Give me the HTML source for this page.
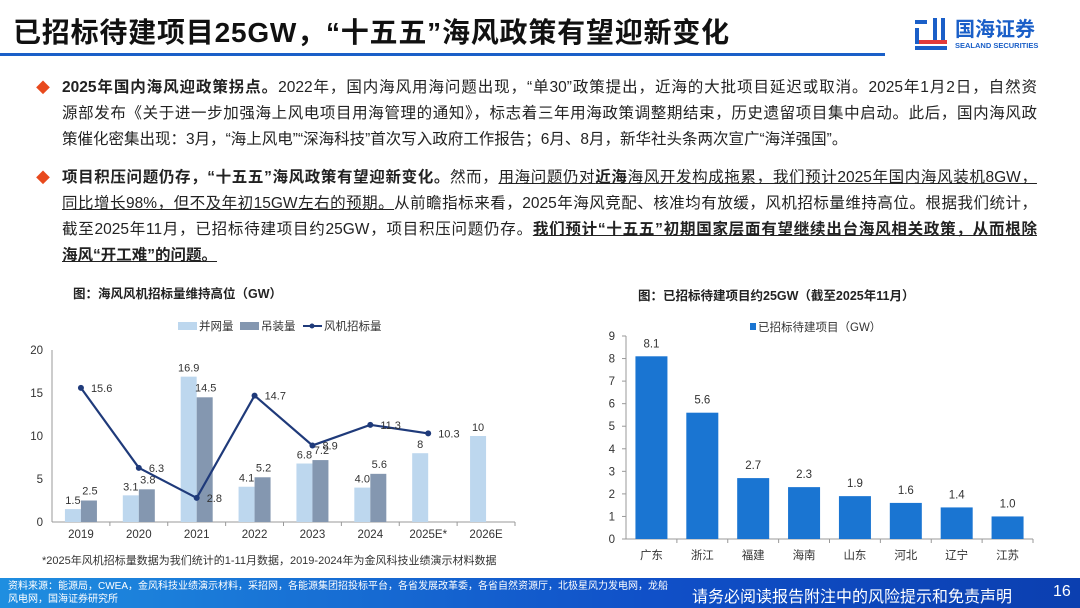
<!DOCTYPE html>
<html><head><meta charset="utf-8">
<style>
*{margin:0;padding:0;box-sizing:border-box}
body{width:1080px;height:608px;overflow:hidden;background:#fff;font-family:"Liberation Sans","Noto Sans CJK SC",sans-serif;position:relative;color:#222}
.abs{position:absolute}
.title{left:13px;top:11px;font-size:28px;font-weight:bold;color:#111;letter-spacing:0.8px;white-space:nowrap}
.rule{left:0;top:53px;width:885px;height:3px;background:#1a5fc8}
.body{left:62px;top:75px;width:975px;font-size:15.5px;line-height:26px;color:#222}
.p{position:relative;margin-bottom:12px}
.p .b{position:absolute;left:-26px;top:0;color:#e8491d;font-size:14px}
.l{white-space:nowrap;text-align:justify;text-align-last:justify;height:26px}
.l.last{text-align-last:left}
.u{text-decoration:underline}
.footer{left:0;top:578px;width:1080px;height:30px;background:linear-gradient(90deg,#1f8ee0,#1050c8 60%,#0b3fb0)}
</style></head><body>
<div class="abs title">已招标待建项目25GW，“十五五”海风政策有望迎新变化</div>
<div class="abs rule"></div>
<div class="abs" style="left:913px;top:16px;width:160px;height:40px">
<svg width="36" height="36" viewBox="0 0 36 36" style="position:absolute;left:0;top:0">
<rect x="2" y="4" width="12" height="4" fill="#1a5fc8"/><rect x="2" y="12" width="4" height="16" fill="#1a5fc8"/><rect x="20" y="2" width="4" height="22" fill="#1a5fc8"/><rect x="28" y="2" width="4" height="22" fill="#1a5fc8"/><rect x="6" y="24" width="28" height="4" fill="#e23a3a"/><rect x="2" y="30" width="32" height="4" fill="#1a5fc8"/></svg>
<div style="position:absolute;left:42px;top:0;font-size:20px;font-weight:bold;color:#1a5fc8;font-family:'Noto Sans CJK SC',sans-serif;line-height:24px">国海证券</div>
<div style="position:absolute;left:42px;top:25px;font-size:7.5px;font-weight:bold;color:#1a5fc8">SEALAND SECURITIES</div>
</div>
<div class="abs body">
<div class="p"><span class="b">◆</span>
<div class="l"><b>2025年国内海风迎政策拐点。</b>2022年，国内海风用海问题出现，“单30”政策提出，近海的大批项目延迟或取消。2025年1月2日，自然资</div>
<div class="l">源部发布《关于进一步加强海上风电项目用海管理的通知》，标志着三年用海政策调整期结束，历史遗留项目集中启动。此后，国内海风政</div>
<div class="l last">策催化密集出现：3月，“海上风电”“深海科技”首次写入政府工作报告；6月、8月，新华社头条两次宣广“海洋强国”。</div>
</div>
<div class="p"><span class="b">◆</span>
<div class="l"><b>项目积压问题仍存，“十五五”海风政策有望迎新变化。</b>然而，<span class="u">用海问题仍对<b>近海</b>海风开发构成拖累，我们预计2025年国内海风装机8GW，</span></div>
<div class="l"><span class="u">同比增长98%，但不及年初15GW左右的预期。</span>从前瞻指标来看，2025年海风竞配、核准均有放缓，风机招标量维持高位。根据我们统计，</div>
<div class="l">截至2025年11月，已招标待建项目约25GW，项目积压问题仍存。<b class="u">我们预计“十五五”初期国家层面有望继续出台海风相关政策，从而根除</b></div>
<div class="l last"><b class="u">海风“开工难”的问题。</b></div>
</div>
</div>

<svg id="c1" class="abs" style="left:0;top:280px" width="590" height="298"></svg>
<svg id="c2" class="abs" style="left:590px;top:280px" width="490" height="298"></svg>

<div class="abs footer">
<div class="abs" style="left:8px;top:2px;font-size:10px;line-height:13px;color:#fff;width:662px">资料来源：能源局，CWEA，金风科技业绩演示材料，采招网，各能源集团招投标平台，各省发展改革委，各省自然资源厅，北极星风力发电网，龙船风电网，国海证券研究所</div>
<div class="abs" style="left:692px;top:5px;font-size:16px;color:#fff">请务必阅读报告附注中的风险提示和免责声明</div>
<div class="abs" style="left:1053px;top:5px;font-size:16px;color:#fff">16</div>
</div>

<script>
const years=["2019","2020","2021","2022","2023","2024","2025E*","2026E"];
const gridConn=[1.5,3.1,16.9,4.1,6.8,4.0,8,10];
const installed=[2.5,3.8,14.5,5.2,7.2,5.6,null,null];
const tender=[15.6,6.3,2.8,14.7,8.9,11.3,10.3,null];
const yTicks1=[0,5,10,15,20];
const provinces=["广东","浙江","福建","海南","山东","河北","辽宁","江苏"];
const pending=[8.1,5.6,2.7,2.3,1.9,1.6,1.4,1.0];
const yTicks2=[0,1,2,3,4,5,6,7,8,9];
const NS="http://www.w3.org/2000/svg";
function mk(svg,tag,attrs,txt){const e=document.createElementNS(NS,tag);for(const k in attrs)e.setAttribute(k,attrs[k]);if(txt!==undefined)e.textContent=txt;svg.appendChild(e);return e;}
const FF='"Liberation Sans","Noto Sans CJK SC",sans-serif';
(function(){
const s=document.getElementById('c1');
const x0=52,x1=515,y0=242,yTop=70,max=20;
const y=v=>y0-(v/max)*(y0-yTop);
const cw=(x1-x0)/years.length;
const cx=i=>x0+cw*(i+0.5);
let t=mk(s,'text',{x:73,y:18,'font-size':12.5,'font-weight':'bold','font-family':FF,fill:'#222'},'图：海风风机招标量维持高位（GW）');

let g=mk(s,'g',{});
mk(g,'rect',{x:178,y:42,width:19,height:8,fill:'#bdd7ee'});mk(g,'text',{x:199,y:50,'font-size':11.5,'font-family':FF,fill:'#333'},'并网量');
mk(g,'rect',{x:240,y:42,width:19,height:8,fill:'#8497b0'});mk(g,'text',{x:261,y:50,'font-size':11.5,'font-family':FF,fill:'#333'},'吊装量');
mk(g,'line',{x1:303,y1:46,x2:322,y2:46,stroke:'#1f3a7a','stroke-width':2});mk(g,'circle',{cx:312,cy:46,r:2.5,fill:'#1f3a7a'});mk(g,'text',{x:324,y:50,'font-size':11.5,'font-family':FF,fill:'#333'},'风机招标量');
mk(s,'line',{x1:x0,y1:yTop,x2:x0,y2:y0,stroke:'#999'});
mk(s,'line',{x1:x0,y1:y0,x2:x1,y2:y0,stroke:'#999'});
yTicks1.forEach(v=>{const e=mk(s,'text',{x:43,y:y(v)+4,'font-size':11.5,'text-anchor':'end','font-family':FF,fill:'#333'},v);});
years.forEach((c,i)=>{
 mk(s,'line',{x1:x0+cw*(i+1),y1:y0,x2:x0+cw*(i+1),y2:y0+4,stroke:'#999'});
 const e=mk(s,'text',{x:cx(i),y:y0+16,'font-size':11.5,'text-anchor':'middle','font-family':FF,fill:'#333'},c);
 
 if(gridConn[i]!=null){const r=mk(s,'rect',{x:cx(i)-16,y:y(gridConn[i]),width:16,height:y0-y(gridConn[i]),fill:'#bdd7ee'});
  
  const lbl=(i>=6)?String(gridConn[i]):gridConn[i].toFixed(1);
  mk(s,'text',{x:cx(i)-8,y:y(gridConn[i])-5,'font-size':11,'text-anchor':'middle','font-family':FF,fill:'#333'},lbl);}
 if(installed[i]!=null){const r=mk(s,'rect',{x:cx(i),y:y(installed[i]),width:16,height:y0-y(installed[i]),fill:'#8497b0'});
  
  mk(s,'text',{x:cx(i)+9,y:y(installed[i])-6,'font-size':11,'text-anchor':'middle','font-family':FF,fill:'#333'},installed[i].toFixed(1));}
});
const pts=tender.map((v,i)=>v==null?null:[cx(i),y(v)]).filter(p=>p);
const pl=mk(s,'polyline',{points:pts.map(p=>p.join(',')).join(' '),fill:'none',stroke:'#1f3a7a','stroke-width':2.2});

tender.forEach((v,i)=>{if(v==null)return;const c=mk(s,'circle',{cx:cx(i),cy:y(v),r:3,fill:'#1f3a7a'});
 mk(s,'text',{x:cx(i)+10,y:y(v)+4,'font-size':11,'font-family':FF,fill:'#333'},v.toFixed(1));});
const n=mk(s,'text',{x:42,y:284,'font-size':11,'font-family':FF,fill:'#333'},'*2025年风机招标量数据为我们统计的1-11月数据，2019-2024年为金风科技业绩演示材料数据');

})();
(function(){
const s=document.getElementById('c2');
const x0=36,x1=443,y0=259,yTop=56,max=9;
const y=v=>y0-(v/max)*(y0-yTop);
const cw=(x1-x0)/provinces.length;
const cx=i=>x0+cw*(i+0.5);
let t=mk(s,'text',{x:48,y:20,'font-size':12.5,'font-weight':'bold','font-family':FF,fill:'#222'},'图：已招标待建项目约25GW（截至2025年11月）');

let g=mk(s,'g',{});
mk(g,'rect',{x:160,y:43,width:6,height:7,fill:'#1a75d2'});mk(g,'text',{x:168,y:51,'font-size':11.5,'font-family':FF,fill:'#333'},'已招标待建项目（GW）');
mk(s,'line',{x1:x0,y1:yTop,x2:x0,y2:y0,stroke:'#999'});
mk(s,'line',{x1:x0,y1:y0,x2:x1,y2:y0,stroke:'#999'});
yTicks2.forEach(v=>{mk(s,'line',{x1:x0-4,y1:y(v),x2:x0,y2:y(v),stroke:'#999'});const e=mk(s,'text',{x:25,y:y(v)+4,'font-size':11.5,'text-anchor':'end','font-family':FF,fill:'#333'},v);});
provinces.forEach((c,i)=>{
 mk(s,'line',{x1:x0+cw*(i+1),y1:y0,x2:x0+cw*(i+1),y2:y0+4,stroke:'#999'});
 const e=mk(s,'text',{x:cx(i),y:y0+20,'font-size':11.5,'text-anchor':'middle','font-family':FF,fill:'#333'},c);
 
 const r=mk(s,'rect',{x:cx(i)-16,y:y(pending[i]),width:32,height:y0-y(pending[i]),fill:'#1a75d2'});
 
 mk(s,'text',{x:cx(i),y:y(pending[i])-9,'font-size':11.5,'text-anchor':'middle','font-family':FF,fill:'#333'},pending[i].toFixed(1));
});
})();
</script>
</body></html>
